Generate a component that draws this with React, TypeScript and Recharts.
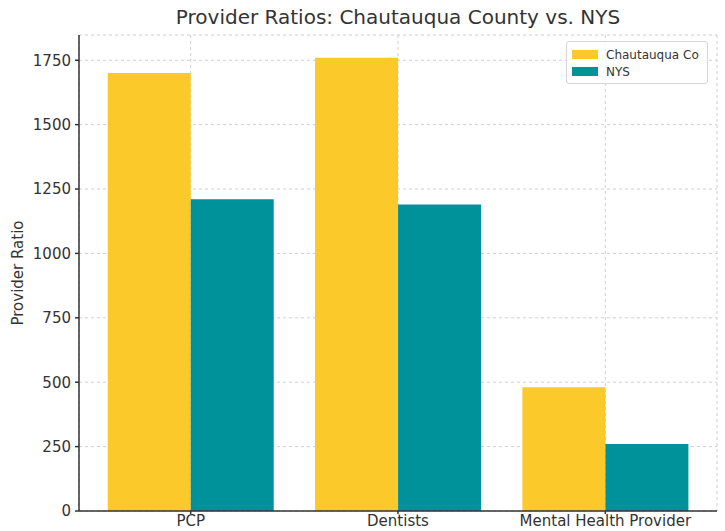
import React from 'react';
import { BarChart, Bar, XAxis, YAxis, CartesianGrid } from 'recharts';

const categories = ['PCP', 'Dentists', 'Mental Health Provider'];
const chautauquaValues = [1700, 1760, 480];
const nysValues = [1210, 1190, 260];
const yTicks = [0, 250, 500, 750, 1000, 1250, 1500, 1750];

const YELLOW = '#FCC92A';
const TEAL = '#00929A';
const FONT = '"DejaVu Sans", sans-serif';

const data = categories.map((name, i) => ({
  name,
  chautauqua: chautauquaValues[i],
  nys: nysValues[i],
}));

function LegendBox() {
  const items = [
    { label: 'Chautauqua Co', color: YELLOW },
    { label: 'NYS', color: TEAL },
  ];
  return (
    <div
      style={{
        position: 'absolute',
        left: 566,
        top: 41,
        border: '1px solid #d6d6d6',
        borderRadius: 3,
        background: 'rgba(255,255,255,0.85)',
        padding: '4px 8px 3px 5px',
        fontFamily: FONT,
        fontSize: 12,
        color: '#333',
      }}
    >
      {items.map((it) => (
        <div key={it.label} style={{ display: 'flex', alignItems: 'center', height: 17 }}>
          <span style={{ width: 26, height: 9, background: it.color, marginRight: 8 }} />
          {it.label}
        </div>
      ))}
    </div>
  );
}

export default function App() {
  return (
    <div style={{ position: 'absolute', left: 0, top: 0, width: 725, height: 531, background: '#fff' }}>
      <div
        style={{
          position: 'absolute',
          left: 79,
          width: 638,
          top: 5,
          textAlign: 'center',
          fontFamily: FONT,
          fontSize: 20,
          color: '#333',
        }}
      >
        Provider Ratios: Chautauqua County vs. NYS
      </div>
      <BarChart
        width={725}
        height={531}
        data={data}
        margin={{ top: 35, right: 8, bottom: 0, left: 0 }}
        barCategoryGap="10%"
        barGap={0}
      >
        <CartesianGrid stroke="#cfcfcf" strokeDasharray="3 3" />
        <XAxis
          dataKey="name"
          height={20}
          padding={{ left: 8, right: 8 }}
          stroke="#333"
          strokeWidth={1.5}
          tickSize={3}
          tickMargin={1}
          tick={{ fill: '#333', fontSize: 15, fontFamily: FONT }}
        />
        <YAxis
          width={79}
          domain={[0, 1848]}
          ticks={yTicks}
          stroke="#333"
          strokeWidth={1.5}
          tickSize={4}
          tickMargin={4}
          tick={{ fill: '#333', fontSize: 15, fontFamily: FONT }}
          label={{
            value: 'Provider Ratio',
            angle: -90,
            position: 'insideLeft',
            offset: 18,
            style: { fill: '#333', fontSize: 15, fontFamily: FONT, textAnchor: 'middle' },
          }}
        />
        <Bar dataKey="chautauqua" name="Chautauqua Co" fill={YELLOW} isAnimationActive={false} />
        <Bar dataKey="nys" name="NYS" fill={TEAL} isAnimationActive={false} />
      </BarChart>
      <LegendBox />
    </div>
  );
}
